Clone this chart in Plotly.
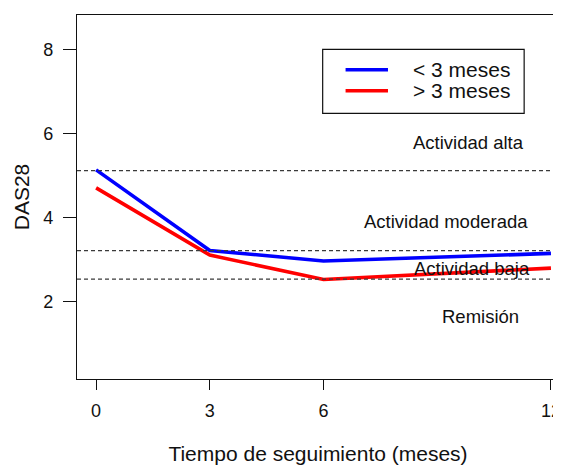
import plotly.graph_objects as go

months = [0, 3, 6, 12]
lt3 = [5.13, 3.21, 2.96, 3.14]
gt3 = [4.70, 3.10, 2.52, 2.79]
series_names = ["< 3 meses", "> 3 meses"]
series_colors = ["#0000FF", "#FF0000"]
thresholds = [5.11, 3.205, 2.53]
zone_labels = ["Actividad alta", "Actividad moderada", "Actividad baja", "Remisión"]
zone_x = [9.82, 9.24, 9.91, 10.13]
zone_y = [5.78, 3.895, 2.79, 1.65]
xticks = [0, 3, 6, 12]
yticks = [2, 4, 6, 8]

FONT = "Liberation Sans, Arial, Helvetica, sans-serif"

fig = go.Figure()
for vals, name, col in zip([lt3, gt3], series_names, series_colors):
    fig.add_trace(go.Scatter(x=months, y=vals, mode="lines", name=name,
                             line=dict(color=col, width=3.6), showlegend=False))

for t in thresholds:
    fig.add_shape(type="line", xref="paper", x0=0, x1=1, yref="y", y0=t, y1=t,
                  line=dict(color="#3a3a3a", width=1.2, dash="4px,3px"))

for lab, zx, zy in zip(zone_labels, zone_x, zone_y):
    fig.add_annotation(x=zx, y=zy, text=lab, showarrow=False,
                       xanchor="center", yanchor="middle",
                       font=dict(size=18.5, color="#111", family=FONT))

# legend box (drawn manually to match original layout)
fig.add_shape(type="rect", xref="paper", yref="paper", x0=0.5097, x1=0.9277,
              y0=0.7299, y1=0.9058, line=dict(color="#111", width=1.2),
              fillcolor="white")
leg_y = [0.8497, 0.7920]
for name, col, ly in zip(series_names, series_colors, leg_y):
    fig.add_shape(type="line", xref="paper", yref="paper", x0=0.5572, x1=0.6452,
                  y0=ly, y1=ly, line=dict(color=col, width=3.6))
    fig.add_annotation(xref="paper", yref="paper", x=0.692, y=ly, text=name,
                       showarrow=False, xanchor="left", yanchor="middle",
                       font=dict(size=21, color="#111", family=FONT))

fig.update_layout(
    width=553, height=457,
    margin=dict(l=69, r=0, t=7, b=86),
    paper_bgcolor="white", plot_bgcolor="white",
    font=dict(family=FONT, color="#111"),
    xaxis=dict(range=[-0.504, 12.212], tickvals=xticks, ticks="outside", ticklen=10,
               tickwidth=1.2, tickcolor="#111", showline=True, linecolor="#111",
               linewidth=1.4, mirror=True, showgrid=False, zeroline=False,
               tickfont=dict(size=18, family=FONT, color="#111"),
               ticklabelstandoff=5, ticklabeloverflow="allow",
               title=dict(text="Tiempo de seguimiento (meses)", standoff=29,
                          font=dict(size=21, family=FONT, color="#111"))),
    yaxis=dict(range=[0.15, 8.817], tickvals=yticks, ticks="outside", ticklen=13,
               tickwidth=1.2, tickcolor="#111", showline=True, linecolor="#111",
               linewidth=1.4, mirror=False, showgrid=False, zeroline=False,
               tickfont=dict(size=18, family=FONT, color="#111"),
               ticklabelstandoff=6,
               title=dict(text="DAS28", standoff=7,
                          font=dict(size=21, family=FONT, color="#111"))),
)

fig.write_html("out.html")
